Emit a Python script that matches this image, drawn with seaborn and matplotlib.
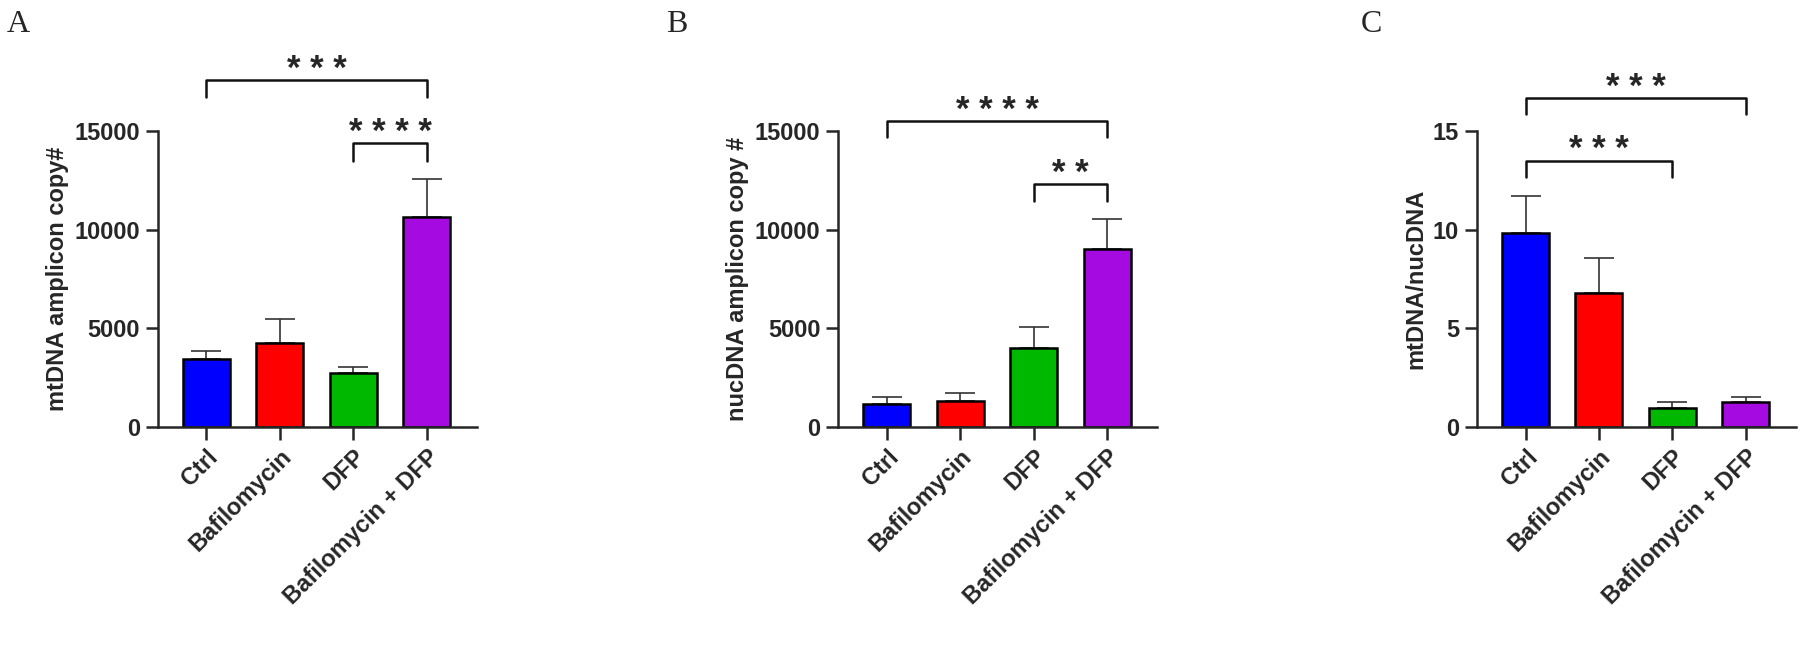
import numpy as np
import matplotlib
matplotlib.use("Agg")
import matplotlib.pyplot as plt
import seaborn as sns

groups = ["Ctrl", "Bafilomycin", "DFP", "Bafilomycin + DFP"]
bar_colors = ["#0000FF", "#FF0000", "#00B800", "#A50AE0"]

mt_mean = [3460, 4240, 2730, 10630]
mt_sem = [410, 1250, 330, 1970]
nuc_mean = [1170, 1330, 4000, 9020]
nuc_sem = [330, 390, 1080, 1520]
ratio_mean = [9.86, 6.80, 0.98, 1.27]
ratio_sem = [1.88, 1.75, 0.29, 0.25]

# (left group, right group, bracket height, tick depth, label)
mt_sig = [(0, 3, 17580, 840, "* * *"), (2, 3, 14410, 900, "* * * *")]
nuc_sig = [(0, 3, 15510, 820, "* * * *"), (2, 3, 12340, 860, "* *")]
ratio_sig = [(0, 3, 16.70, 0.84, "* * *"), (0, 2, 13.52, 0.86, "* * *")]

sns.set_style("ticks")
plt.rcParams["font.family"] = ["Liberation Sans", "DejaVu Sans"]
plt.rcParams["font.weight"] = "bold"


def draw_panel(ax, means, sems, ylabel, yticks, sigs, letter, letter_x):
    sns.barplot(x=groups, y=means, hue=groups, palette=bar_colors, legend=False,
                width=0.64, edgecolor="black", linewidth=1.8, errorbar=None,
                saturation=1, ax=ax, zorder=2)
    ax.errorbar(x=np.arange(len(groups)), y=means,
                yerr=[np.zeros(len(sems)), sems], fmt="none", ecolor="#333333",
                elinewidth=1.2, capsize=11, capthick=1.2, zorder=1)
    ymax = yticks[-1]
    ax.set_ylim(0, ymax)
    ax.set_xlim(-0.66, 3.68)
    ax.set_yticks(yticks)
    ax.set_yticklabels([str(t) for t in yticks], fontsize=17, fontweight="bold")
    ax.set_xticks(range(len(groups)))
    ax.set_xticklabels(groups, rotation=45, ha="right", rotation_mode="anchor",
                       fontsize=17, fontweight="bold")
    ax.set_ylabel(ylabel, fontsize=17, fontweight="bold")
    ax.set_xlabel("")
    for side in ["top", "right"]:
        ax.spines[side].set_visible(False)
    for side in ["left", "bottom"]:
        ax.spines[side].set_linewidth(1.8)
    ax.tick_params(axis="both", length=9, width=1.8, pad=4)
    for x1, x2, h, d, lab in sigs:
        ax.plot([x1, x1, x2, x2], [h - d, h, h, h - d], color="#111111",
                lw=1.8, clip_on=False)
        ax.text((x1 + x2) / 2, h + ymax * 0.004, lab, ha="center", va="baseline",
                fontsize=25, fontweight="bold", clip_on=False)
    fig.text(letter_x, 0.985, letter, family="Liberation Serif", fontsize=23,
             fontweight="normal", ha="left", va="top")


fig = plt.figure(figsize=(18, 6.47), dpi=100)
axA = fig.add_axes([0.0878, 0.340, 0.177, 0.457])
axB = fig.add_axes([0.4658, 0.340, 0.177, 0.457])
axC = fig.add_axes([0.8206, 0.340, 0.177, 0.457])

draw_panel(axA, mt_mean, mt_sem, "mtDNA amplicon copy#", [0, 5000, 10000, 15000],
           mt_sig, "A", 0.004)
draw_panel(axB, nuc_mean, nuc_sem, "nucDNA amplicon copy #", [0, 5000, 10000, 15000],
           nuc_sig, "B", 0.370)
draw_panel(axC, ratio_mean, ratio_sem, "mtDNA/nucDNA", [0, 5, 10, 15],
           ratio_sig, "C", 0.756)

fig.savefig("out.png", dpi=100)
